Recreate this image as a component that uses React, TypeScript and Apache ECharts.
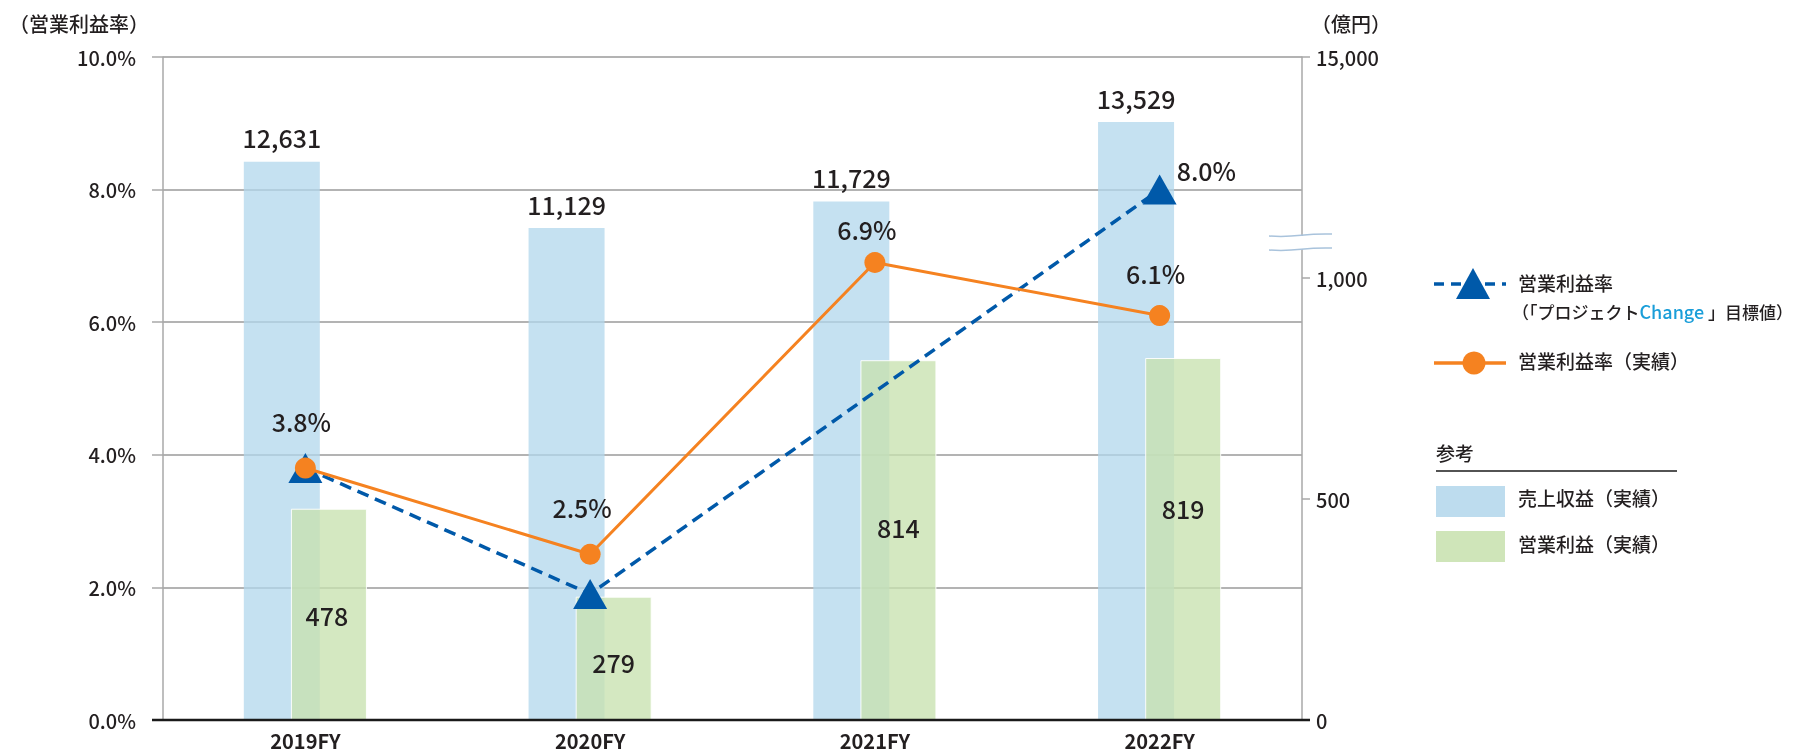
import React, { useEffect, useRef } from "react";
import * as echarts from "echarts";

const categories = ["2019FY", "2020FY", "2021FY", "2022FY"];
const revenue = [12631, 11129, 11729, 13529];
const operatingProfit = [478, 279, 814, 819];
const marginTarget: (number | null)[] = [3.8, 1.9, null, 8.0];
const marginActual = [3.8, 2.5, 6.9, 6.1];
const leftTicks = [0, 2, 4, 6, 8, 10];
const rightTickLabels: Record<number, string> = { 0: "0", 500: "500", 1000: "1,000", 1500: "15,000" };

const FONT = '"Noto Sans CJK JP", "Noto Sans", sans-serif';
const TXT = "#231f20";
const BLUE_BAR = "rgba(178,215,236,0.75)";
const GREEN_BAR = "rgba(200,226,175,0.78)";
const NAVY = "#0059a9";
const ORANGE = "#f58220";

export default function App() {
  const ref = useRef<HTMLDivElement>(null);
  useEffect(() => {
    if (!ref.current) return;
    const chart = echarts.init(ref.current, null, { renderer: "svg" });
    const actualLabelCfg = [
      { distance: 24, offset: [-4, 0] },
      { distance: 24, offset: [-8, 0] },
      { distance: 11, offset: [-8, 0] },
      { distance: 20, offset: [-4, 0] },
    ];
    const profitOffsets = [[-2, 1], [0, 4], [0, -13], [0, -31]];
    const valueLabel = { fontSize: 25, fontWeight: 500, color: TXT, fontFamily: FONT };
    chart.setOption({
      animation: false,
      textStyle: { fontFamily: FONT },
      grid: { left: 163, right: 501, top: 57, bottom: 33, containLabel: false },
      xAxis: {
        type: "category",
        data: categories,
        axisLine: { show: false },
        axisTick: { show: false },
        axisLabel: { fontSize: 20, fontWeight: "bold", color: TXT, margin: 10, fontFamily: FONT },
      },
      yAxis: [
        {
          type: "value",
          min: 0,
          max: 10,
          interval: 2,
          position: "left",
          axisLine: { show: true, lineStyle: { color: "#a8a8a8", width: 1.5 } },
          axisTick: { show: true, length: 11, lineStyle: { color: "#a8a8a8", width: 1.5 } },
          axisLabel: {
            fontSize: 20,
            fontWeight: 500,
            color: TXT,
            margin: 27,
            fontFamily: FONT,
            formatter: (v: number) => (leftTicks.includes(v) ? v.toFixed(1) + "%" : ""),
          },
          splitLine: { show: true, lineStyle: { color: "#9a9a9a", width: 1.5 } },
        },
        {
          type: "value",
          min: 0,
          max: 1500,
          interval: 500,
          position: "right",
          axisLine: { show: true, lineStyle: { color: "#a8a8a8", width: 1.5 } },
          axisTick: { show: true, length: 8, lineStyle: { color: "#a8a8a8", width: 1.5 } },
          axisLabel: {
            fontSize: 20,
            fontWeight: 500,
            color: TXT,
            margin: 14,
            fontFamily: FONT,
            formatter: (v: number) => rightTickLabels[v] ?? "",
          },
          splitLine: { show: false },
        },
        {
          type: "value",
          min: 0,
          max: 15000,
          show: false,
          splitLine: { show: false },
        },
      ],
      series: [
        {
          name: "売上収益（実績）",
          type: "bar",
          yAxisIndex: 2,
          data: revenue,
          barWidth: 76,
          barGap: "-38%",
          itemStyle: { color: BLUE_BAR },
          label: {
            show: true,
            position: "top",
            distance: 12,
            ...valueLabel,
            formatter: (p: any) => Number(p.value).toLocaleString("en-US"),
          },
          z: 2,
        },
        {
          name: "営業利益（実績）",
          type: "bar",
          yAxisIndex: 1,
          data: operatingProfit.map((v, i) => ({
            value: v,
            label: { offset: profitOffsets[i] },
          })),
          barWidth: 76,
          itemStyle: { color: GREEN_BAR, borderColor: "rgba(255,255,255,0.9)", borderWidth: 1 },
          label: { show: true, position: "inside", ...valueLabel },
          z: 3,
        },
        {
          name: "営業利益率（目標値）",
          type: "line",
          yAxisIndex: 0,
          data: marginTarget.map((v, i) => ({
            value: v,
            label:
              i === 3
                ? { show: true, position: "right", distance: 0, offset: [0, -20] }
                : { show: false },
          })),
          connectNulls: true,
          symbol: "triangle",
          symbolSize: [34, 30],
          itemStyle: { color: NAVY },
          lineStyle: { color: NAVY, width: 3.5, type: [12, 7] },
          label: { ...valueLabel, formatter: (p: any) => Number(p.value).toFixed(1) + "%" },
          z: 5,
        },
        {
          name: "営業利益率（実績）",
          type: "line",
          yAxisIndex: 0,
          data: marginActual.map((v, i) => ({
            value: v,
            label: { show: true, position: "top", ...actualLabelCfg[i] },
          })),
          symbol: "circle",
          symbolSize: 21,
          itemStyle: { color: ORANGE },
          lineStyle: { color: ORANGE, width: 3 },
          label: { ...valueLabel, formatter: (p: any) => Number(p.value).toFixed(1) + "%" },
          z: 6,
        },
      ],
      graphic: [
        { type: "text", left: 9, top: 13, style: { text: "（営業利益率）", font: `500 20px ${FONT}`, fill: TXT } },
        { type: "text", left: 1311, top: 13, style: { text: "（億円）", font: `500 20px ${FONT}`, fill: TXT } },
        { type: "line", shape: { x1: 152, y1: 720, x2: 1310, y2: 720 }, style: { stroke: "#1a1a1a", lineWidth: 2.5 }, z: 10 },
        { type: "rect", shape: { x: 1290, y: 236, width: 20, height: 13 }, style: { fill: "#ffffff" }, z: 20 },
        {
          type: "bezierCurve",
          shape: { x1: 1269, y1: 236, cpx1: 1300, cpy1: 238, cpx2: 1300, cpy2: 233, x2: 1332, y2: 234 },
          style: { stroke: "#a9c3dc", lineWidth: 1.5, fill: "none" },
          z: 21,
        },
        {
          type: "bezierCurve",
          shape: { x1: 1269, y1: 250, cpx1: 1300, cpy1: 252, cpx2: 1300, cpy2: 247, x2: 1332, y2: 248 },
          style: { stroke: "#a9c3dc", lineWidth: 1.5, fill: "none" },
          z: 21,
        },
        { type: "line", shape: { x1: 1434, y1: 284, x2: 1506, y2: 284 }, style: { stroke: NAVY, lineWidth: 3.5, lineDash: [10, 7] } },
        { type: "polygon", shape: { points: [[1473, 268], [1490, 299], [1456, 299]] }, style: { fill: NAVY } },
        { type: "text", left: 1518, top: 273, style: { text: "営業利益率", font: `500 19px ${FONT}`, fill: TXT } },
        {
          type: "text",
          left: 1512,
          top: 302,
          style: {
            text: "{a|（「プロジェクト}{b|Change}{a| 」目標値）}",
            rich: {
              a: { fontSize: 17, fontWeight: 500, fontFamily: FONT, fill: TXT, color: TXT },
              b: { fontSize: 18, fontWeight: 500, fontFamily: FONT, fill: "#1a9ed9", color: "#1a9ed9" },
            },
          },
        },
        { type: "line", shape: { x1: 1434, y1: 363, x2: 1506, y2: 363 }, style: { stroke: ORANGE, lineWidth: 3.5 } },
        { type: "circle", shape: { cx: 1474, cy: 363, r: 11.5 }, style: { fill: ORANGE } },
        { type: "text", left: 1518, top: 351, style: { text: "営業利益率（実績）", font: `500 19px ${FONT}`, fill: TXT } },
        { type: "text", left: 1436, top: 443, style: { text: "参考", font: `500 19px ${FONT}`, fill: TXT } },
        { type: "line", shape: { x1: 1436, y1: 471, x2: 1677, y2: 471 }, style: { stroke: "#1a1a1a", lineWidth: 1.5 } },
        { type: "rect", shape: { x: 1436, y: 486, width: 69, height: 31 }, style: { fill: "#bddcee" } },
        { type: "text", left: 1518, top: 488, style: { text: "売上収益（実績）", font: `500 19px ${FONT}`, fill: TXT } },
        { type: "rect", shape: { x: 1436, y: 531, width: 69, height: 31 }, style: { fill: "#cfe5b9" } },
        { type: "text", left: 1518, top: 534, style: { text: "営業利益（実績）", font: `500 19px ${FONT}`, fill: TXT } },
      ],
    });
    return () => chart.dispose();
  }, []);
  return <div ref={ref} style={{ position: "fixed", left: 0, top: 0, width: 1803, height: 753 }} />;
}
